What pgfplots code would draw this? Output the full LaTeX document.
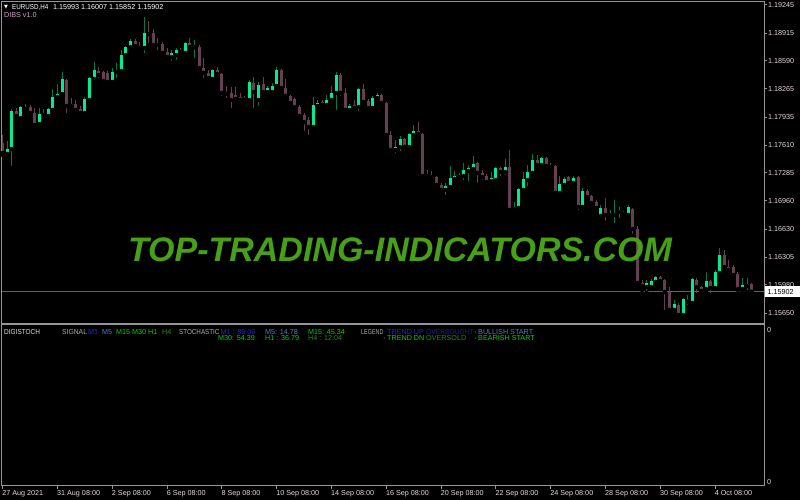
\documentclass[border=0pt]{standalone}
\usepackage{pgfplots}
\pgfplotsset{compat=1.18}
\usepackage{pgfplotstable}
\usepackage{fontspec}
\setmainfont{Liberation Sans}
\newfontfamily\symfont{DejaVu Sans}

\definecolor{bull}{RGB}{0,235,150}
\definecolor{bullwick}{RGB}{0,120,75}
\definecolor{bear}{RGB}{100,64,82}
\definecolor{framegray}{RGB}{150,150,150}
\definecolor{labelcol}{RGB}{228,215,222}
\definecolor{pricecol}{RGB}{110,88,100}
\definecolor{wmark}{RGB}{72,160,24}
\definecolor{dibs}{RGB}{210,165,200}
\definecolor{sigblue}{RGB}{35,35,215}
\definecolor{steel}{RGB}{70,130,190}
\definecolor{lgreen}{RGB}{0,210,0}
\definecolor{dgreen}{RGB}{30,140,30}
\definecolor{navy}{RGB}{30,30,140}
\definecolor{sgray}{RGB}{175,175,175}

\newcommand\sz{\fontsize{7.2}{8}\selectfont}

% EURUSD H4 candles: bar index, open, high, low, close
\pgfplotstableread{
i o h l c
0 1.17634 1.17727 1.17494 1.17518
1 1.17506 1.17657 1.17494 1.17564
2 1.17564 1.18030 1.17343 1.18007
3 1.18007 1.18042 1.17925 1.17949
4 1.17925 1.18065 1.17890 1.18053
5 1.18053 1.18088 1.17995 1.18030
6 1.18053 1.18077 1.17937 1.17984
7 1.17984 1.18042 1.17832 1.17844
8 1.17855 1.18042 1.17820 1.17972
9 1.17972 1.18030 1.17949 1.17960
10 1.17949 1.18042 1.17937 1.18030
11 1.18019 1.18263 1.17995 1.18170
12 1.18170 1.18321 1.18160 1.18205
13 1.18205 1.18461 1.18193 1.18380
14 1.18368 1.18380 1.17960 1.18065
15 1.18065 1.18158 1.18019 1.18088
16 1.18088 1.18135 1.17995 1.18019
17 1.18030 1.18065 1.17972 1.17984
18 1.17984 1.18170 1.17937 1.18147
19 1.18135 1.18403 1.18123 1.18391
20 1.18380 1.18578 1.18368 1.18485
21 1.18473 1.18519 1.18368 1.18426
22 1.18461 1.18473 1.18345 1.18356
23 1.18450 1.18473 1.18333 1.18345
24 1.18345 1.18508 1.18333 1.18461
25 1.18461 1.18566 1.18368 1.18473
26 1.18473 1.18718 1.18461 1.18659
27 1.18659 1.18764 1.18636 1.18752
28 1.18752 1.18846 1.18718 1.18822
29 1.18822 1.18846 1.18752 1.18764
30 1.18764 1.18811 1.18718 1.18741
31 1.18741 1.19102 1.18659 1.18916
32 1.18927 1.19055 1.18776 1.18904
33 1.18916 1.18962 1.18752 1.18776
34 1.18776 1.18857 1.18694 1.18787
35 1.18787 1.18811 1.18659 1.18683
36 1.18694 1.18741 1.18601 1.18636
37 1.18636 1.18718 1.18566 1.18683
38 1.18659 1.18741 1.18578 1.18718
39 1.18718 1.18741 1.18671 1.18694
40 1.18683 1.18811 1.18671 1.18799
41 1.18799 1.18857 1.18741 1.18752
42 1.18752 1.18834 1.18601 1.18764
43 1.18752 1.18776 1.18485 1.18508
44 1.18508 1.18624 1.18368 1.18450
45 1.18450 1.18485 1.18368 1.18391
46 1.18380 1.18496 1.18368 1.18485
47 1.18485 1.18519 1.18426 1.18438
48 1.18438 1.18450 1.18158 1.18217
49 1.18228 1.18298 1.18135 1.18205
50 1.18217 1.18286 1.18019 1.18135
51 1.18193 1.18286 1.18135 1.18147
52 1.18170 1.18217 1.18112 1.18135
53 1.18147 1.18182 1.18123 1.18135
54 1.18135 1.18368 1.18112 1.18345
55 1.18333 1.18403 1.18019 1.18228
56 1.18135 1.18345 1.18053 1.18310
57 1.18321 1.18403 1.18217 1.18228
58 1.18228 1.18298 1.18217 1.18275
59 1.18228 1.18333 1.18182 1.18298
60 1.18298 1.18519 1.18252 1.18485
61 1.18485 1.18496 1.18263 1.18275
62 1.18275 1.18380 1.18170 1.18182
63 1.18182 1.18193 1.18088 1.18100
64 1.18147 1.18158 1.18042 1.18053
65 1.18053 1.18077 1.17925 1.17949
66 1.17960 1.17984 1.17751 1.17879
67 1.17902 1.17937 1.17704 1.17820
68 1.17820 1.18170 1.17809 1.18077
69 1.18065 1.18135 1.18019 1.18100
70 1.18112 1.18135 1.18053 1.18077
71 1.18077 1.18193 1.18053 1.18135
72 1.18135 1.18298 1.18112 1.18217
73 1.18217 1.18461 1.17995 1.18426
74 1.18426 1.18450 1.18158 1.18217
75 1.18217 1.18275 1.17995 1.18019
76 1.18019 1.18088 1.17995 1.18065
77 1.18077 1.18135 1.18019 1.18042
78 1.18053 1.18275 1.17984 1.18263
79 1.18263 1.18321 1.18100 1.18112
80 1.18123 1.18147 1.18030 1.18042
81 1.18042 1.18182 1.18030 1.18158
82 1.18158 1.18217 1.18135 1.18193
83 1.18193 1.18205 1.18088 1.18100
84 1.18100 1.18112 1.17716 1.17727
85 1.17727 1.17774 1.17518 1.17553
86 1.17553 1.17669 1.17494 1.17587
87 1.17587 1.17716 1.17518 1.17681
88 1.17681 1.17692 1.17576 1.17587
89 1.17587 1.17751 1.17576 1.17739
90 1.17727 1.17844 1.17669 1.17774
91 1.17774 1.17879 1.17727 1.17739
92 1.17739 1.17751 1.17238 1.17250
93 1.17273 1.17320 1.17226 1.17250
94 1.17261 1.17308 1.17226 1.17238
95 1.17238 1.17250 1.17121 1.17145
96 1.17145 1.17168 1.17063 1.17087
97 1.17087 1.17168 1.17005 1.17133
98 1.17121 1.17366 1.17110 1.17226
99 1.17215 1.17308 1.17203 1.17250
100 1.17238 1.17285 1.17226 1.17261
101 1.17250 1.17401 1.17180 1.17320
102 1.17308 1.17378 1.17168 1.17343
103 1.17331 1.17483 1.17296 1.17389
104 1.17401 1.17413 1.17145 1.17285
105 1.17285 1.17320 1.17180 1.17238
106 1.17250 1.17273 1.17168 1.17180
107 1.17191 1.17296 1.17168 1.17226
108 1.17203 1.17354 1.17168 1.17343
109 1.17343 1.17354 1.17226 1.17296
110 1.17296 1.17448 1.17238 1.17354
111 1.17354 1.17553 1.16830 1.16854
112 1.16865 1.16947 1.16830 1.16888
113 1.16877 1.17110 1.16854 1.17098
114 1.17087 1.17296 1.17063 1.17215
115 1.17203 1.17378 1.17110 1.17296
116 1.17285 1.17506 1.17273 1.17436
117 1.17436 1.17494 1.17366 1.17378
118 1.17378 1.17471 1.17343 1.17459
119 1.17459 1.17471 1.17354 1.17366
120 1.17366 1.17401 1.17320 1.17354
121 1.17366 1.17378 1.17040 1.17052
122 1.17052 1.17250 1.17005 1.17156
123 1.17145 1.17238 1.17121 1.17215
124 1.17238 1.17250 1.17133 1.17168
125 1.17168 1.17250 1.17156 1.17226
126 1.17238 1.17250 1.16830 1.16888
127 1.16888 1.17110 1.16877 1.17075
128 1.17075 1.17098 1.16970 1.17005
129 1.17017 1.17028 1.16912 1.16935
130 1.16947 1.16970 1.16854 1.16877
131 1.16784 1.16912 1.16760 1.16877
132 1.16877 1.16993 1.16702 1.16795
133 1.16795 1.16854 1.16772 1.16807
134 1.16795 1.16970 1.16679 1.16819
135 1.16830 1.16888 1.16737 1.16854
136 1.16819 1.16842 1.16784 1.16807
137 1.16795 1.16912 1.16772 1.16888
138 1.16865 1.16877 1.16551 1.16632
139 1.16632 1.16667 1.15980 1.16003
140 1.16003 1.16038 1.15922 1.15968
141 1.15956 1.16038 1.15887 1.16003
142 1.15956 1.16050 1.15944 1.16026
143 1.16015 1.16085 1.16003 1.16073
144 1.16073 1.16085 1.16003 1.16026
145 1.16038 1.16050 1.15665 1.15898
146 1.15898 1.15956 1.15665 1.15689
147 1.15689 1.15805 1.15665 1.15758
148 1.15747 1.15770 1.15619 1.15630
149 1.15630 1.15828 1.15607 1.15817
150 1.15782 1.15863 1.15723 1.15805
151 1.15770 1.16061 1.15723 1.16050
152 1.16038 1.16061 1.15863 1.15956
153 1.15956 1.15968 1.15887 1.15910
154 1.15933 1.16131 1.15898 1.16026
155 1.16026 1.16038 1.15863 1.15944
156 1.15944 1.16155 1.15933 1.16131
157 1.16120 1.16411 1.16108 1.16329
158 1.16329 1.16388 1.16155 1.16189
159 1.16189 1.16271 1.16131 1.16155
160 1.16189 1.16213 1.16085 1.16096
161 1.16108 1.16131 1.15922 1.15933
162 1.15933 1.16061 1.15898 1.15980
163 1.15968 1.16061 1.15898 1.15991
164 1.15993 1.16007 1.15852 1.15902
}\candles

\begin{document}
\begin{tikzpicture}
\useasboundingbox (0,0) rectangle (800pt,500pt);
\fill[black] (0,0) rectangle (800pt,500pt);

% price panel
\begin{axis}[
    at={(2pt,176pt)}, anchor=south west,
    scale only axis, width=762pt, height=322pt,
    xmin=-0.15, xmax=166.7,
    ymin=1.15525, ymax=1.19277,
    axis line style={framegray, line width=1pt},
    xtick=\empty,
    ytick pos=right, yticklabel pos=right,
    ytick={1.19245,1.18915,1.18590,1.18265,1.17935,1.17610,1.17285,1.16960,1.16630,1.16305,1.15980,1.15650},
    yticklabels={1.19245,1.18915,1.18590,1.18265,1.17935,1.17610,1.17285,1.16960,1.16630,1.16305,1.15980,1.15650},
    tick align=outside, major tick length=3pt,
    tick style={framegray, line width=1pt},
    yticklabel style={font=\sz, text=labelcol, anchor=west, inner sep=0pt, xshift=1pt},
]
\addplot[pricecol, line width=1pt] coordinates {(-0.15,1.15902) (166.7,1.15902)};

% wicks
\addplot[only marks, mark=none,
    restrict expr to domain={\thisrow{c}-\thisrow{o}}{0:1},
    error bars/.cd, y dir=plus, y explicit, error mark=none,
    error bar style={bullwick, line width=1pt}]
  table[x=i, y=l, y error plus expr=\thisrow{h}-\thisrow{l}] {\candles};
\addplot[only marks, mark=none,
    restrict expr to domain={\thisrow{c}-\thisrow{o}}{-1:-0.000001},
    error bars/.cd, y dir=plus, y explicit, error mark=none,
    error bar style={bear, line width=1pt}]
  table[x=i, y=l, y error plus expr=\thisrow{h}-\thisrow{l}] {\candles};
% bodies
\addplot[only marks, mark=none,
    restrict expr to domain={\thisrow{c}-\thisrow{o}}{0:1},
    error bars/.cd, y dir=plus, y explicit, error mark=none,
    error bar style={bull, line width=3pt}]
  table[x=i, y=o, y error plus expr=\thisrow{c}-\thisrow{o}] {\candles};
\addplot[only marks, mark=none,
    restrict expr to domain={\thisrow{c}-\thisrow{o}}{-1:-0.000001},
    error bars/.cd, y dir=plus, y explicit, error mark=none,
    error bar style={bear, line width=3pt}]
  table[x=i, y=c, y error plus expr=\thisrow{o}-\thisrow{c}] {\candles};
\end{axis}

% indicator panel
\begin{axis}[
    at={(2pt,14pt)}, anchor=south west,
    scale only axis, width=762pt, height=161pt,
    xmin=-0.15, xmax=166.7, ymin=0, ymax=1,
    axis line style={framegray, line width=1pt},
    ytick=\empty,
    xtick pos=bottom,
    xtick={0,12,...,156},
    xticklabels={27 Aug 2021,31 Aug 08:00,2 Sep 08:00,6 Sep 08:00,8 Sep 08:00,10 Sep 08:00,14 Sep 08:00,16 Sep 08:00,20 Sep 08:00,22 Sep 08:00,24 Sep 08:00,28 Sep 08:00,30 Sep 08:00,4 Oct 08:00},
    tick align=outside, major tick length=3pt,
    tick style={framegray, line width=1pt},
    xticklabel style={font=\sz, text=labelcol, anchor=north west, inner sep=0pt, xshift=-0.5pt, yshift=-1pt},
]
\end{axis}

% watermark
\node[text=wmark, font={\fontsize{34}{34}\selectfont\bfseries\itshape}, inner sep=0pt, anchor=center]
  at (400pt,250.5pt) {TOP-TRADING-INDICATORS.COM};

% current price box
\fill[white] (765pt,203pt) rectangle (800pt,214pt);
\node[font=\sz, text=black, anchor=base west, inner sep=0pt] at (767.5pt,205.8pt) {1.15902};

% header
\node[font={\symfont\fontsize{5}{6}\selectfont}, text=white, anchor=base west, inner sep=0pt] at (4pt,491pt) {▼};
\node[font=\sz, text=white, anchor=base west, inner sep=0pt] at (12pt,490.4pt) {\scalebox{0.87}[1]{EURUSD,H4}};
\node[font=\sz, text=white, anchor=base west, inner sep=0pt] at (53pt,490.4pt) {1.15993 1.16007 1.15852 1.15902};
\node[font=\sz, text=dibs, anchor=base west, inner sep=0pt] at (4pt,482.4pt) {DIBS v1.0};

% indicator labels
\begin{scope}[every node/.style={font=\sz, anchor=base west, inner sep=0pt}]
\node[text=labelcol] at (4pt,165.9pt) {\scalebox{0.9}[1]{DIGISTOCH}};
\node[text=sgray] at (62pt,165.9pt) {\scalebox{0.94}[1]{SIGNAL}};
\node[text=sigblue] at (88pt,165.9pt) {M1};
\node[text=steel] at (102pt,165.9pt) {M5};
\node[text=lgreen] at (116pt,165.9pt) {M15 M30 H1};
\node[text=dgreen] at (162pt,165.9pt) {H4};
\node[text=sgray] at (179pt,165.9pt) {\scalebox{0.87}[1]{STOCHASTIC}};
\node[text=sigblue] at (220.5pt,165.9pt) {M1 : 89.06};
\node[text=steel] at (265pt,165.9pt) {M5: 14.78};
\node[text=lgreen] at (308pt,165.9pt) {M15: 45.34};
\node[text=lgreen] at (218pt,159.9pt) {M30: 54.39};
\node[text=lgreen] at (265pt,159.9pt) {H1 : 36.79};
\node[text=dgreen] at (308pt,159.9pt) {H4 : 12.04};
\node[text=sgray] at (361pt,165.9pt) {\scalebox{0.75}[1]{LEGEND}};
\node[text=sigblue] at (387pt,165.9pt) {TREND UP};
\node[text=navy] at (426pt,165.9pt) {\scalebox{0.93}[1]{OVERBOUGHT}};
\node[text=labelcol] at (474.5pt,165.9pt) {·};
\node[text=steel] at (478pt,165.9pt) {BULLISH START};
\node[text=labelcol] at (383pt,159.9pt) {·};
\node[text=lgreen] at (387pt,159.9pt) {TREND DN};
\node[text=dgreen] at (426pt,159.9pt) {OVERSOLD};
\node[text=labelcol] at (474.5pt,159.9pt) {·};
\node[text=lgreen] at (478pt,159.9pt) {BEARISH START};
\node[text=labelcol] at (767pt,167pt) {0};
\node[text=labelcol] at (767pt,15.4pt) {0};
\end{scope}
\end{tikzpicture}
\end{document}
